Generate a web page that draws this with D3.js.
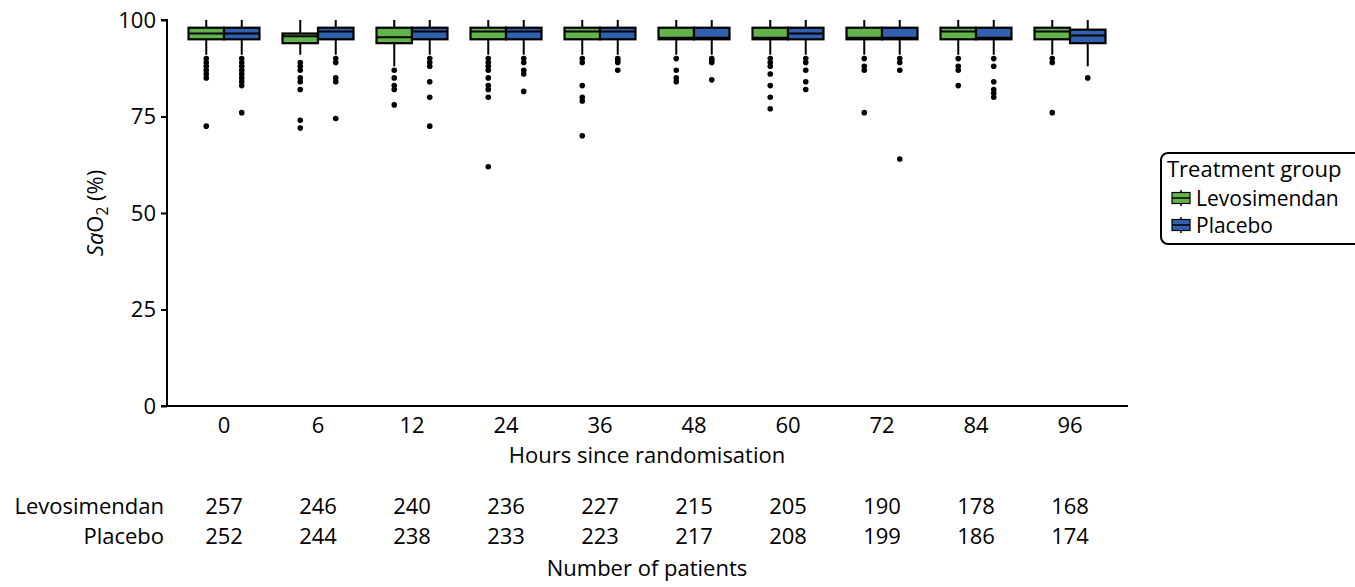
<!DOCTYPE html>
<html>
<head>
<meta charset="utf-8">
<script src="https://cdn.jsdelivr.net/npm/d3@7"></script>
<style>
  html, body { margin: 0; padding: 0; background: #fff; }
  svg { display: block; }
  text { font-family: "Open Sans", "Noto Sans", sans-serif; fill: #000; }
</style>
</head>
<body>
<svg id="chart" width="1355" height="587"></svg>
<script>
// ---- data ----
const hours = ["0", "6", "12", "24", "36", "48", "60", "72", "84", "96"];
const groups = ["Levosimendan", "Placebo"];
const yTicks = [0, 25, 50, 75, 100];

const levoQ1     = [95, 94, 94, 95, 95, 95, 95, 95, 95, 95];
const levoMedian = [96.5, 95.8, 95.5, 97, 97, 95.4, 95.4, 95.4, 97, 97];
const levoQ3     = [98, 96.5, 98, 98, 98, 98, 98, 98, 98, 98];
const levoLow    = [91, 91, 88, 91, 91, 91, 91, 91, 91, 91];
const levoHigh   = [100, 100, 100, 100, 100, 100, 100, 100, 100, 100];
const levoOutliers = [
  [90, 89, 88, 87, 86, 85, 72.5],
  [89, 88, 87, 85, 84, 82, 74, 72],
  [87, 85, 83, 82, 78],
  [90, 89, 88, 87, 85, 83, 82, 80, 62],
  [90, 89, 83, 80, 79, 70],
  [90, 87, 85, 84],
  [90, 89, 88, 86, 83, 80, 77],
  [90, 88, 87, 76],
  [90, 88, 87, 83],
  [90, 89, 76]
];

const placeboQ1     = [95, 95, 95, 95, 95, 95, 95, 95, 95, 94];
const placeboMedian = [96.5, 97, 97, 97, 97, 95.4, 96.5, 95.4, 95.4, 96];
const placeboQ3     = [98, 98, 98, 98, 98, 98, 98, 98, 98, 97.5];
const placeboLow    = [91, 91, 91, 91, 91, 91, 91, 91, 91, 88];
const placeboHigh   = [100, 100, 100, 100, 100, 100, 100, 100, 100, 100];
const placeboOutliers = [
  [90, 89, 88, 87, 86, 85, 84, 83, 76],
  [90, 89, 85, 84, 74.5],
  [90, 89, 88, 84, 80, 72.5],
  [90, 89, 87, 86, 81.5],
  [90, 89.5, 89, 87],
  [90, 89.5, 89, 84.5],
  [90, 89, 87, 84, 82],
  [90, 89, 87, 64],
  [90, 88, 84, 82, 81, 80],
  [85]
];

const levoN    = [257, 246, 240, 236, 227, 215, 205, 190, 178, 168];
const placeboN = [252, 244, 238, 233, 223, 217, 208, 199, 186, 174];

// ---- layout ----
const colors = { "Levosimendan": "#62b34a", "Placebo": "#3061ae" };
const FS = 22;
const svg = d3.select("#chart");

const x0 = d3.scaleBand().domain(hours).range([177, 1117]).paddingInner(0.245).paddingOuter(0.1225);
const x1 = d3.scaleBand().domain(groups).range([0, x0.bandwidth()]);
const y = d3.scaleLinear().domain([0, 100]).range([406, 20]);

const seriesByGroup = {
  "Levosimendan": { q1: levoQ1, med: levoMedian, q3: levoQ3, lo: levoLow, hi: levoHigh, out: levoOutliers },
  "Placebo": { q1: placeboQ1, med: placeboMedian, q3: placeboQ3, lo: placeboLow, hi: placeboHigh, out: placeboOutliers }
};

const boxes = [];
hours.forEach((h, i) => {
  groups.forEach(g => {
    const s = seriesByGroup[g];
    boxes.push({ h, g, q1: s.q1[i], med: s.med[i], q3: s.q3[i], lo: s.lo[i], hi: s.hi[i], out: s.out[i] });
  });
});

// y axis
const yAxisX = 167;
const yAxis = svg.append("g").attr("transform", `translate(${yAxisX},0)`)
  .call(d3.axisLeft(y).tickValues(yTicks).tickSize(6).tickPadding(5));
yAxis.select(".domain").attr("stroke", "#000").attr("stroke-width", 2).attr("d", `M-6,${y(100)}H0V${y(0)}`);
yAxis.selectAll(".tick line").attr("stroke", "#000").attr("stroke-width", 2);
yAxis.selectAll(".tick text").style("font-size", FS + "px").style("font-family", "'Open Sans'").attr("fill", "#000");

// x axis
svg.append("line").attr("x1", yAxisX - 6).attr("x2", 1128).attr("y1", y(0)).attr("y2", y(0))
  .attr("stroke", "#000").attr("stroke-width", 2);
const xAxis = svg.append("g").attr("transform", `translate(0,${y(0)})`)
  .call(d3.axisBottom(x0).tickSize(0).tickPadding(11));
xAxis.select(".domain").remove();
xAxis.selectAll(".tick text").style("font-size", FS + "px").style("font-family", "'Open Sans'").attr("fill", "#000");

// boxes
const bw = x1.bandwidth();
const gBox = svg.append("g");
boxes.forEach(b => {
  const bx = x0(b.h) + x1(b.g);
  const cx = bx + bw / 2;
  const gg = gBox.append("g");
  gg.append("line").attr("x1", cx).attr("x2", cx).attr("y1", y(b.hi)).attr("y2", y(b.q3))
    .attr("stroke", "#000").attr("stroke-width", 2);
  gg.append("line").attr("x1", cx).attr("x2", cx).attr("y1", y(b.q1)).attr("y2", y(b.lo))
    .attr("stroke", "#000").attr("stroke-width", 2);
  gg.append("rect").attr("x", bx).attr("y", y(b.q3)).attr("width", bw).attr("height", y(b.q1) - y(b.q3))
    .attr("fill", colors[b.g]).attr("stroke", "#000").attr("stroke-width", 2.2);
  gg.append("line").attr("x1", bx).attr("x2", bx + bw).attr("y1", y(b.med)).attr("y2", y(b.med))
    .attr("stroke", "#000").attr("stroke-width", 2);
  gg.selectAll("circle").data(b.out).join("circle")
    .attr("cx", cx).attr("cy", d => y(d)).attr("r", 2.8).attr("fill", "#000");
});

// y axis title
const yt = svg.append("text")
  .attr("transform", `translate(103,${(y(0) + y(100)) / 2}) rotate(-90)`)
  .attr("text-anchor", "middle").style("font-size", FS + "px");
yt.append("tspan").style("font-style", "italic").text("Sa");
yt.append("tspan").text("O");
yt.append("tspan").attr("dy", 5).style("font-size", (FS * 0.7) + "px").text("2");
yt.append("tspan").attr("dy", -5).text(" (%)");

// x axis title
const plotMid = (x0.range()[0] + x0.range()[1]) / 2;
svg.append("text").attr("x", plotMid).attr("y", 463).attr("text-anchor", "middle")
  .style("font-size", FS + "px").text("Hours since randomisation");

// number at risk table
const rows = [{ label: "Levosimendan", vals: levoN, yy: 514 }, { label: "Placebo", vals: placeboN, yy: 544 }];
rows.forEach(r => {
  svg.append("text").attr("x", 164).attr("y", r.yy).attr("text-anchor", "end")
    .style("font-size", FS + "px").text(r.label);
  svg.append("g").selectAll("text").data(r.vals).join("text")
    .attr("x", (d, i) => x0(hours[i]) + x0.bandwidth() / 2).attr("y", r.yy)
    .attr("text-anchor", "middle").style("font-size", FS + "px").text(d => d);
});
svg.append("text").attr("x", plotMid).attr("y", 576).attr("text-anchor", "middle")
  .style("font-size", FS + "px").text("Number of patients");

// legend
const lg = svg.append("g");
lg.append("rect").attr("x", 1161).attr("y", 153).attr("width", 220).attr("height", 91).attr("rx", 7)
  .attr("fill", "#fff").attr("stroke", "#000").attr("stroke-width", 2);
lg.append("text").attr("x", 1167).attr("y", 177).style("font-size", FS + "px").text("Treatment group");
groups.forEach((g, i) => {
  const cy = 198 + i * 27;
  const sx = 1172, sw = 18;
  lg.append("line").attr("x1", sx + sw / 2).attr("x2", sx + sw / 2).attr("y1", cy - 8).attr("y2", cy + 8)
    .attr("stroke", "#000").attr("stroke-width", 1.5);
  lg.append("rect").attr("x", sx).attr("y", cy - 5.5).attr("width", sw).attr("height", 11)
    .attr("fill", colors[g]).attr("stroke", "#000").attr("stroke-width", 1.2);
  lg.append("line").attr("x1", sx).attr("x2", sx + sw).attr("y1", cy).attr("y2", cy)
    .attr("stroke", "#000").attr("stroke-width", 1.5);
  lg.append("text").attr("x", 1196).attr("y", cy + 8).style("font-size", (FS - 1) + "px").text(g);
});
</script>
</body>
</html>
